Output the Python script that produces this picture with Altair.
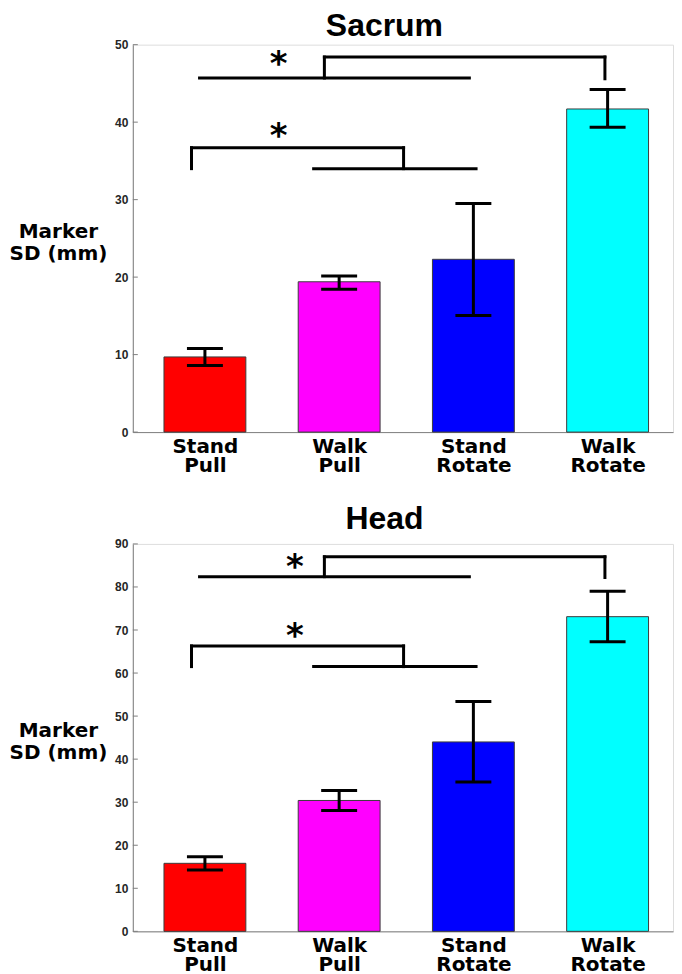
import altair as alt
import pandas as pd

# ---------------- data ----------------
categories = ["Stand Pull", "Walk Pull", "Stand Rotate", "Walk Rotate"]
positions = [1, 2, 3, 4]
colors = ["#ff0000", "#ff00ff", "#0000ff", "#00ffff"]
panel_titles = ["Sacrum", "Head"]

sacrum_mean = [9.7, 19.4, 22.3, 41.7]
sacrum_lo = [8.6, 18.45, 15.05, 39.35]
sacrum_hi = [10.8, 20.15, 29.5, 44.2]
sacrum_ticks = [0, 10, 20, 30, 40, 50]

head_mean = [15.8, 30.4, 44.0, 73.1]
head_lo = [14.25, 28.1, 34.7, 67.3]
head_hi = [17.3, 32.7, 53.4, 79.0]
head_ticks = [0, 10, 20, 30, 40, 50, 60, 70, 80, 90]

# significance bracket segments (x in category units, y in mm)
sacrum_seg_x = [0.96, 1.89, 1.89, 3.98, 0.90, 0.90, 2.48, 1.81]
sacrum_seg_x2 = [2.97, 1.89, 3.98, 3.98, 0.90, 2.48, 2.48, 3.02]
sacrum_seg_y = [45.7, 45.7, 48.4, 48.4, 34.0, 36.7, 36.7, 34.0]
sacrum_seg_y2 = [45.7, 48.4, 48.4, 45.6, 36.7, 36.7, 34.0, 34.0]
sacrum_star_x = [1.55, 1.55]
sacrum_star_y = [48.1, 38.8]

head_seg_x = [0.96, 1.89, 1.89, 3.98, 0.90, 0.90, 2.48, 1.81]
head_seg_x2 = [2.97, 1.89, 3.98, 3.98, 0.90, 2.48, 2.48, 3.02]
head_seg_y = [82.4, 82.4, 87.0, 87.0, 61.5, 66.3, 66.3, 61.5]
head_seg_y2 = [82.4, 87.0, 87.0, 82.2, 66.3, 66.3, 61.5, 61.5]
head_star_x = [1.67, 1.67]
head_star_y = [85.7, 69.8]

# ---------------- styling ----------------
W = 541
H = 388
AXIS_GRAY = "#808080"
TICK_FONT = "Liberation Sans"
LABEL_FONT = "DejaVu Sans"

label_expr = ""
for p, c in zip(positions, categories):
    words = c.split(" ")
    arr = "[" + ",".join("'" + w + "'" for w in words) + "]"
    label_expr += f"datum.value == {p} ? {arr} : "
label_expr += "''"


def panel(name, title_y, mean, lo, hi, sx, sx2, sy, sy2, stx, sty, ticks):
    ymax = ticks[-1]
    bars_df = pd.DataFrame({"pos": positions, "cat": categories, "mean": mean,
                            "lo": lo, "hi": hi})
    caps_df = pd.DataFrame({"pos": positions * 2, "v": lo + hi})
    seg_df = pd.DataFrame({"x": sx, "x2": sx2, "y": sy, "y2": sy2})
    star_df = pd.DataFrame({"x": stx, "y": sty, "t": ["*"] * len(stx)})
    tick_df = pd.DataFrame({"t": ticks})
    title_df = pd.DataFrame({"name": [name]})

    xscale = alt.Scale(domain=[0.5, 4.45], nice=False, zero=False)
    yscale = alt.Scale(domain=[0, ymax], nice=False, zero=True)

    bars = alt.Chart(bars_df).mark_bar(size=82, stroke="#3c3c3c", strokeWidth=1).encode(
        x=alt.X("pos:Q", scale=xscale, title=None,
                axis=alt.Axis(values=positions, labelExpr=label_expr, grid=False,
                              ticks=False, tickSize=0, labelPadding=4,
                              labelFont=LABEL_FONT, labelFontSize=20,
                              labelFontWeight="bold", labelColor="#000000",
                              labelLineHeight=19, labelBaseline="top",
                              domainColor=AXIS_GRAY, domainWidth=1,
                              labelFlush=False, labelOverlap=False)),
        y=alt.Y("mean:Q", scale=yscale,
                axis=alt.Axis(values=ticks, grid=False, ticks=False, tickSize=0,
                              labelPadding=5, labelFont=TICK_FONT, labelFontSize=12,
                              labelFontWeight="bold", labelColor="#262626",
                              domainColor=AXIS_GRAY, domainWidth=1,
                              title=["Marker", "SD (mm)"], titleAngle=0,
                              titleAlign="center", titleBaseline="alphabetic",
                              titleX=-75, titleY=193, titleFont=LABEL_FONT,
                              titleFontSize=20, titleFontWeight="bold",
                              titleColor="#000000", titleLineHeight=22,
                              labelFlush=False)),
        color=alt.Color("cat:N", scale=alt.Scale(domain=categories, range=colors),
                        legend=None),
    )

    inticks = alt.Chart(tick_df).mark_rule(color=AXIS_GRAY, strokeWidth=1).encode(
        y=alt.Y("t:Q", scale=yscale),
        x=alt.value(0),
        x2=alt.value(5),
    )

    err = alt.Chart(bars_df).mark_rule(color="#000000", strokeWidth=3).encode(
        x=alt.X("pos:Q", scale=xscale, title=None),
        y=alt.Y("lo:Q", scale=yscale),
        y2="hi:Q",
    )
    caps = alt.Chart(caps_df).mark_tick(color="#000000", orient="horizontal",
                                        size=36, thickness=3, opacity=1).encode(
        x=alt.X("pos:Q", scale=xscale, title=None),
        y=alt.Y("v:Q", scale=yscale),
    )

    segs = alt.Chart(seg_df).mark_rule(color="#000000", strokeWidth=3,
                                       strokeCap="square").encode(
        x=alt.X("x:Q", scale=xscale, title=None),
        x2="x2:Q",
        y=alt.Y("y:Q", scale=yscale),
        y2="y2:Q",
    )

    stars = alt.Chart(star_df).mark_text(font="DejaVu Sans", fontSize=34,
                                         fontWeight="bold", color="#000000",
                                         baseline="middle", align="center",
                                         dy=6).encode(
        x=alt.X("x:Q", scale=xscale, title=None),
        y=alt.Y("y:Q", scale=yscale),
        text="t:N",
    )

    title = alt.Chart(title_df).mark_text(font="Liberation Sans", fontSize=32,
                                          fontWeight="bold", color="#000000",
                                          baseline="alphabetic", align="center").encode(
        x=alt.value(252),
        y=alt.value(title_y),
        text="name:N",
    )

    return alt.layer(bars, inticks, err, caps, segs, stars, title).properties(
        width=W, height=H,
    )


top = panel(panel_titles[0], -9, sacrum_mean, sacrum_lo, sacrum_hi,
            sacrum_seg_x, sacrum_seg_x2, sacrum_seg_y, sacrum_seg_y2,
            sacrum_star_x, sacrum_star_y, sacrum_ticks)
bottom = panel(panel_titles[1], -15, head_mean, head_lo, head_hi,
               head_seg_x, head_seg_x2, head_seg_y, head_seg_y2,
               head_star_x, head_star_y, head_ticks)

chart = alt.vconcat(top, bottom, spacing=112, bounds="flush", padding=0).configure_view(
    stroke=None
).configure(background="#ffffff")

chart.save("out.html", embed_options={"renderer": "svg", "actions": False})
